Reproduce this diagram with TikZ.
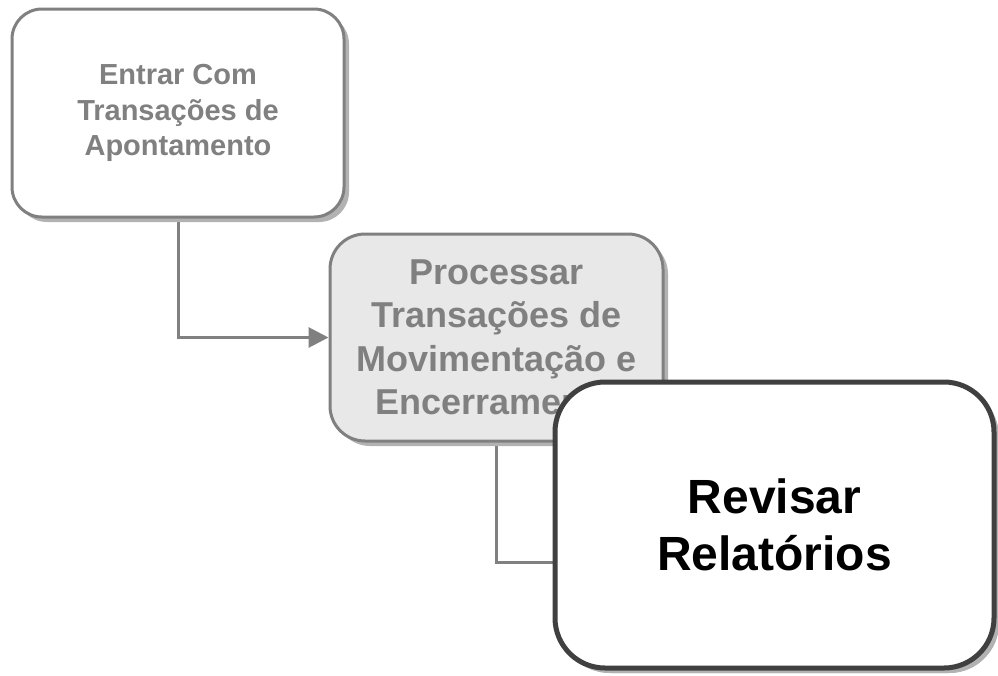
\documentclass[tikz,border=0pt]{standalone}
\usepackage{fontspec}
\setmainfont{Liberation Sans}
\usetikzlibrary{shadows,arrows.meta}
\definecolor{linegray}{HTML}{808080}
\definecolor{shadowgray}{HTML}{B2B2B2}
\definecolor{fillgray}{HTML}{E8E8E8}
\definecolor{darkline}{HTML}{404040}
\pgfdeclarelayer{bg}
\pgfsetlayers{bg,main}
\begin{document}
\begin{tikzpicture}[x=1pt,y=-1pt,
  box/.style={rounded corners=30pt, draw=linegray, line width=3pt, fill=white,
    align=center, text=linegray, inner sep=0pt,
    drop shadow={shadow xshift=5pt, shadow yshift=-5pt, fill=shadowgray, opacity=1}},
  conn/.style={draw=linegray, line width=3pt},
]
\useasboundingbox (0,0) rectangle (998,675);

\node[box, minimum width=332pt, minimum height=208pt,
  font=\fontsize{29}{35.5}\selectfont\bfseries] (b1) at (178,113)
  {Entrar Com\\Transações de\\Apontamento};

\node[box, fill=fillgray, rounded corners=35pt, minimum width=333pt, minimum height=207pt,
  font=\fontsize{36}{43.5}\selectfont\bfseries] (b2) at (496.5,337.5)
  {Processar\\Transações de\\Movimentação e\\Encerramento};

\begin{pgfonlayer}{bg}
\draw[conn, -{Triangle[length=20pt,width=20pt]}] (b1.south) |- (b2.west);
\end{pgfonlayer}

\node[box, draw=darkline, line width=5pt, rounded corners=50pt, text=black,
  minimum width=439pt, minimum height=286pt,
  drop shadow={shadow xshift=5pt, shadow yshift=-5pt, fill=shadowgray, opacity=1},
  font=\fontsize{48}{57}\selectfont\bfseries] (b3) at (774.5,525)
  {Revisar\\Relatórios};

\begin{pgfonlayer}{bg}
\draw[conn] (b2.south) |- ([yshift=-37pt]b3.west);
\end{pgfonlayer}
\end{tikzpicture}
\end{document}
